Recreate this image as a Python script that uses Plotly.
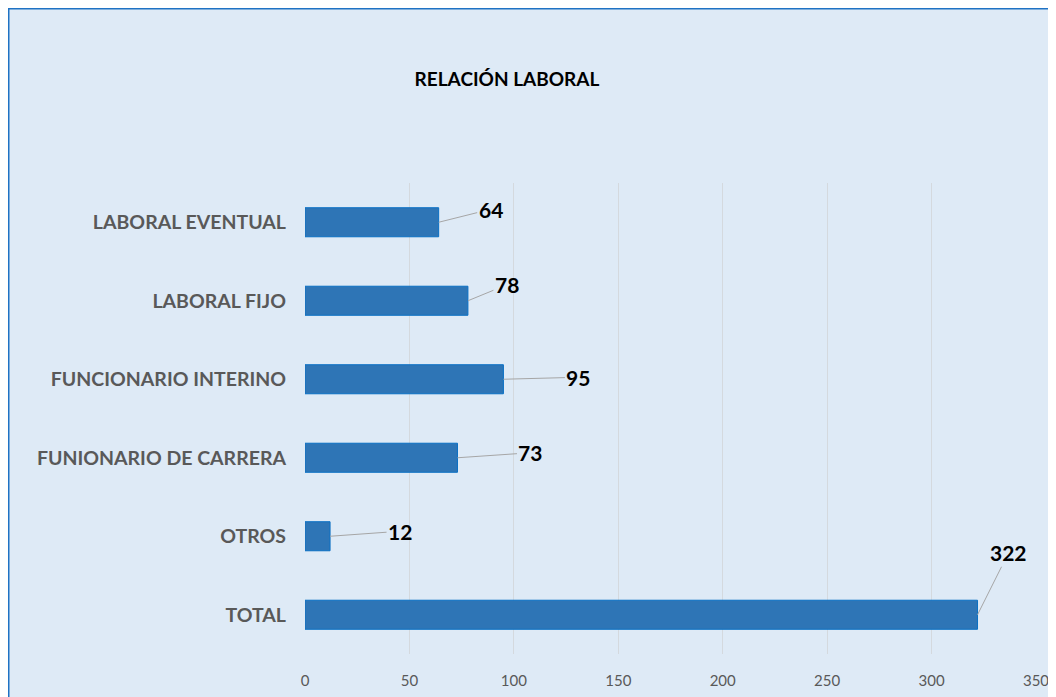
import plotly.graph_objects as go

categories = ['TOTAL', 'OTROS', 'FUNIONARIO DE CARRERA', 'FUNCIONARIO INTERINO',
              'LABORAL FIJO', 'LABORAL EVENTUAL']
values = [322, 12, 73, 95, 78, 64]
x_ticks = [0, 50, 100, 150, 200, 250, 300, 350]

# pixel offsets of each value label from the bar end
label_offsets = [(31, -62), (70, -5), (73, -5), (75, -2), (39, -16), (52, -13)]

FONT = 'Lato, Calibri, Carlito, sans-serif'

# page body has an 8px margin, so figure is 8px smaller
W, H = 1048, 689
L, R, T, B = 297, 20, 175, 43
pw, ph = W - L - R, H - T - B

fig = go.Figure()
fig.add_trace(go.Bar(
    x=values, y=categories, orientation='h',
    marker=dict(color='#2E75B6', line=dict(color='#0A70C4', width=1)),
    width=0.37, hoverinfo='x+y'))

for cat, val, (ax, ay) in zip(categories, values, label_offsets):
    fig.add_annotation(
        x=val, y=cat, text='<b>%d</b>' % val, showarrow=True,
        arrowhead=0, arrowwidth=1, arrowcolor='#A6A6A6', ax=ax, ay=ay,
        font=dict(family=FONT, size=21, color='#000000'))

# chart frame
fig.add_shape(type='rect', xref='paper', yref='paper',
              x0=(0.5 - L) / pw, x1=(W + 10 - L) / pw,
              y0=-(B + 10) / ph, y1=(ph + T - 0.5) / ph,
              fillcolor='#DEEAF6', line=dict(color='#1F72C4', width=2),
              layer='below')

fig.update_layout(
    width=W, height=H,
    margin=dict(l=L, r=R, t=T, b=B),
    paper_bgcolor='#FFFFFF', plot_bgcolor='rgba(0,0,0,0)',
    showlegend=False,
    title=dict(text='<b>RELACIÓN LABORAL</b>', x=499 / W, xanchor='center',
               y=1 - 71 / H, yanchor='middle',
               font=dict(family=FONT, size=19, color='#000000')),
    xaxis=dict(range=[0, 350], tickvals=x_ticks, showgrid=True,
               gridcolor='#D4D9DE', gridwidth=1, zeroline=False,
               showline=False, ticks='', ticklabelstandoff=16,
               automargin=False,
               tickfont=dict(family=FONT, size=15, color='#595959')),
    yaxis=dict(showgrid=False, zeroline=False, showline=False, ticks='',
               ticklabelstandoff=18, automargin=False,
               tickfont=dict(family=FONT, size=19.5, color='#595959'),
               tickprefix='<b>', ticksuffix='</b>'),
)

fig.write_html('out.html')
